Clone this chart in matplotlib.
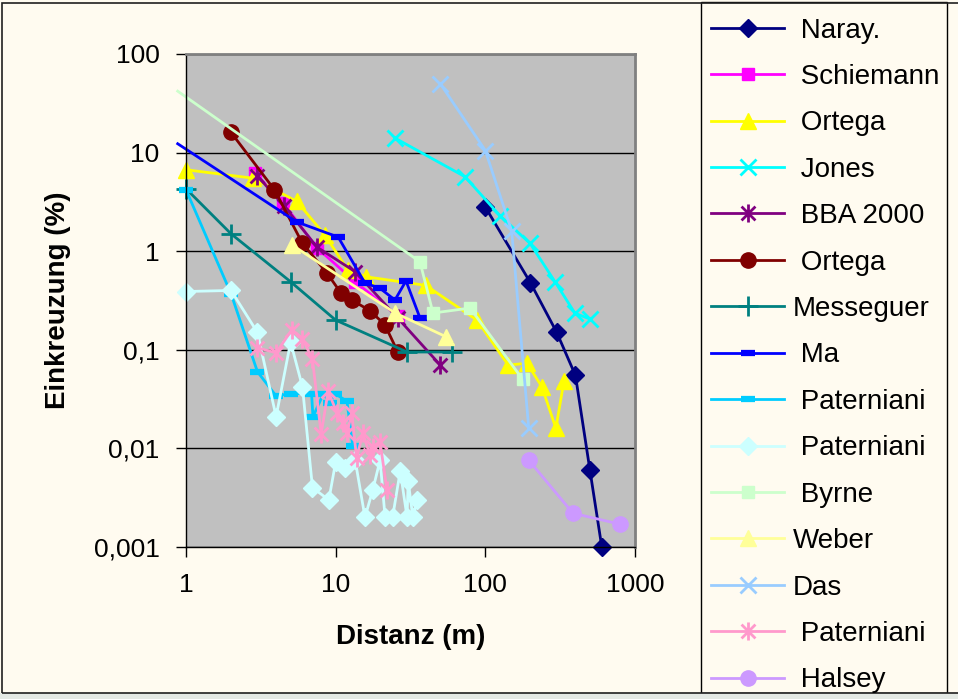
import matplotlib
matplotlib.use('Agg')

from matplotlib import pyplot as plt
from matplotlib.path import Path
from matplotlib.patches import Rectangle
from matplotlib.lines import Line2D
from matplotlib.ticker import FixedLocator, FixedFormatter, NullLocator

plt.rcParams['font.family'] = ['Liberation Sans', 'DejaVu Sans']

# values (Distanz m / Einkreuzung %)
naray_x = [100, 200, 300, 400, 500, 600]
naray_y = [2.8, 0.48, 0.15, 0.055, 0.006, 0.001]

schiemann_x = [2.9, 4.45, 7.5, 13.5, 26]
schiemann_y = [6.2, 3.1, 1.08, 0.49, 0.22]

ortega_x = [1, 2.8, 5.5, 8.5, 12, 16, 40, 88, 142, 190, 239, 296, 335]
ortega_y = [6.7, 5.5, 3.2, 1.45, 0.65, 0.55, 0.45, 0.2, 0.07, 0.073, 0.042, 0.016, 0.048]

jones_x = [25, 73, 125, 199, 292, 397, 500]
jones_y = [14, 5.7, 2.3, 1.2, 0.49, 0.235, 0.205]

bba_x = [3, 4.5, 7.5, 13.5, 26, 50]
bba_y = [5.8, 2.9, 1.1, 0.62, 0.21, 0.07]

ortega2_x = [2, 3.9, 6, 8.75, 10.8, 12.8, 16.9, 21.3, 26]
ortega2_y = [16, 4.2, 1.2, 0.6, 0.38, 0.32, 0.25, 0.18, 0.095]

messeguer_x = [1, 2, 5, 10, 30, 60]
messeguer_y = [4.3, 1.5, 0.49, 0.2, 0.095, 0.095]

ma_x = [0.88, 5.5, 10.4, 15.7, 19.8, 24.9, 29.5, 36.6]
ma_y = [12.3, 1.98, 1.39, 0.475, 0.42, 0.32, 0.5, 0.21]

pat1_x = [1, 2, 3, 4, 5, 6.9, 7.05, 8.3, 9.1, 9.9, 11.9, 13]
pat1_y = [4.2, 0.37, 0.06, 0.034, 0.036, 0.036, 0.021, 0.036, 0.029, 0.036, 0.03, 0.0107]

pat2_x = [1, 2, 3, 4, 5, 6, 7, 9, 10, 11.5, 13.5, 15.7, 17.7, 19.8, 21.4, 24, 27, 30,
          30.5, 32.8, 35]
pat2_y = [0.39, 0.40, 0.15, 0.021, 0.12, 0.042, 0.004, 0.003, 0.0073, 0.0063, 0.0076,
          0.002, 0.0038, 0.0076, 0.002, 0.002, 0.0059, 0.002, 0.0047, 0.002, 0.003]

byrne_x = [0.88, 36.6, 44.7, 79, 178]
byrne_y = [42, 0.78, 0.236, 0.265, 0.05]

weber_x = [5.1, 25, 55]
weber_y = [1.16, 0.236, 0.135]

das_x = [50, 100, 150, 195]
das_y = [50, 10.5, 1.6, 0.016]

pat3_x = [3, 4, 5.1, 6, 7, 8, 8.9, 10.2, 11.2, 11.9, 12.8, 13.8, 15.2, 16.9, 17.7,
          19.8, 22]
pat3_y = [0.105, 0.093, 0.16, 0.13, 0.08, 0.014, 0.038, 0.023, 0.018, 0.0142, 0.023,
          0.008, 0.0142, 0.0086, 0.0104, 0.0116, 0.0038]

halsey_x = [195, 385, 800]
halsey_y = [0.0076, 0.0022, 0.0017]

y_ticks = [0.001, 0.01, 0.1, 1, 10, 100]
y_tick_labels = ['0,001', '0,01', '0,1', '1', '10', '100']
x_ticks = [1, 10, 100, 1000]
x_tick_labels = ['1', '10', '100', '1000']

# excel style star: an x with a vertical bar
STAR = Path(
    [(-1, -1), (1, 1), (-1, 1), (1, -1), (0, -1.3), (0, 1.3)],
    [Path.MOVETO, Path.LINETO, Path.MOVETO, Path.LINETO, Path.MOVETO, Path.LINETO],
)

# label, x, y, colour, marker, markersize, marker edge width, first marker skipped
series = [
    (' Naray.', naray_x, naray_y, '#000080', 'D', 9, 1, False),
    (' Schiemann', schiemann_x, schiemann_y, '#FF00FF', 's', 9, 1, False),
    (' Ortega', ortega_x, ortega_y, '#FFFF00', '^', 11, 1, False),
    (' Jones', jones_x, jones_y, '#00FFFF', 'x', 11, 2, False),
    (' BBA 2000', bba_x, bba_y, '#800080', STAR, 13, 2, False),
    (' Ortega', ortega2_x, ortega2_y, '#800000', 'o', 11, 1, False),
    ('Messeguer', messeguer_x, messeguer_y, '#008080', '+', 14, 2, False),
    (' Ma', ma_x, ma_y, '#0000FF', '_', 10, 4.5, True),
    (' Paterniani', pat1_x, pat1_y, '#00CCFF', '_', 10, 4.5, False),
    (' Paterniani', pat2_x, pat2_y, '#CCFFFF', 'D', 9, 1, False),
    (' Byrne', byrne_x, byrne_y, '#CCFFCC', 's', 9, 1, True),
    ('Weber', weber_x, weber_y, '#FFFF99', '^', 11, 1, False),
    ('Das', das_x, das_y, '#99CCFF', 'x', 11, 2, False),
    (' Paterniani', pat3_x, pat3_y, '#FF99CC', STAR, 13, 2, False),
    (' Halsey', halsey_x, halsey_y, '#CC99FF', 'o', 11, 1, False),
]

W, H = 958, 699
fig = plt.figure(figsize=(W / 100, H / 100), dpi=100, facecolor='#FFFBF0')
ax = fig.add_axes([186 / W, 1 - 547 / H, (635 - 186) / W, (547 - 54) / H])
ax.set_facecolor('#C0C0C0')

handles = []
labels = []
for label, xs, ys, color, marker, size, mew, skip_first in series:
    markevery = slice(1, None) if skip_first else None
    ax.plot(xs, ys, color=color, lw=2, marker=marker, markersize=size,
            markerfacecolor=color, markeredgecolor=color, markeredgewidth=mew,
            markevery=markevery, clip_on=False)
    handles.append(Line2D([], [], color=color, lw=2, marker=marker, markersize=size,
                          markerfacecolor=color, markeredgecolor=color,
                          markeredgewidth=mew))
    labels.append(label)

ax.set_xscale('log')
ax.set_yscale('log')
ax.set_xlim(1, 1000)
ax.set_ylim(0.001, 100)

ax.xaxis.set_major_locator(FixedLocator(x_ticks))
ax.xaxis.set_major_formatter(FixedFormatter(x_tick_labels))
ax.yaxis.set_major_locator(FixedLocator(y_ticks))
ax.yaxis.set_major_formatter(FixedFormatter(y_tick_labels))
ax.xaxis.set_minor_locator(NullLocator())
ax.yaxis.set_minor_locator(NullLocator())
ax.tick_params(axis='both', direction='out', length=7, width=1, color='black',
               labelsize=19, labelcolor='black')
ax.tick_params(axis='x', pad=12)
ax.tick_params(axis='y', pad=12)

ax.set_axisbelow(True)
ax.yaxis.grid(True, color='black', lw=1)
ax.xaxis.grid(False)

for side in ('left', 'bottom'):
    ax.spines[side].set_color('black')
    ax.spines[side].set_linewidth(1)
for side in ('top', 'right'):
    ax.spines[side].set_color('#808080')
    ax.spines[side].set_linewidth(2)

ax.set_xlabel('Distanz (m)', fontsize=20, fontweight='bold', va='center')
ax.set_ylabel('Einkreuzung (%)', fontsize=20, fontweight='bold', va='center')
ax.xaxis.set_label_coords(0.5, (547 - 637) / (547 - 54))
ax.yaxis.set_label_coords((58 - 186) / (635 - 186), 0.5)

# legend frame spanning the full chart height
fig.patches.append(Rectangle((701 / W, 1 - 693 / H), (947 - 701) / W, (693 - 2) / H,
                             transform=fig.transFigure, fill=False, edgecolor='black',
                             lw=1))
# outer chart border and the bit of screen below it
fig.patches.append(Rectangle((0, 0), 1, 6 / H, transform=fig.transFigure,
                             facecolor='#E4E9E4', edgecolor='none'))
fig.patches.append(Rectangle((1.5 / W, 1 - 693 / H), 1.2, (693 - 2.5) / H,
                             transform=fig.transFigure, fill=False, edgecolor='#202020',
                             lw=1.2))

fig.legend(handles, labels, loc='upper left', bbox_to_anchor=(711 / W, 1 - 17.5 / H),
           frameon=False, fontsize=20, labelspacing=0.735, handlelength=2.63,
           handletextpad=0.32, borderpad=0, borderaxespad=0)

fig.savefig('out.png', dpi=100, facecolor=fig.get_facecolor())
